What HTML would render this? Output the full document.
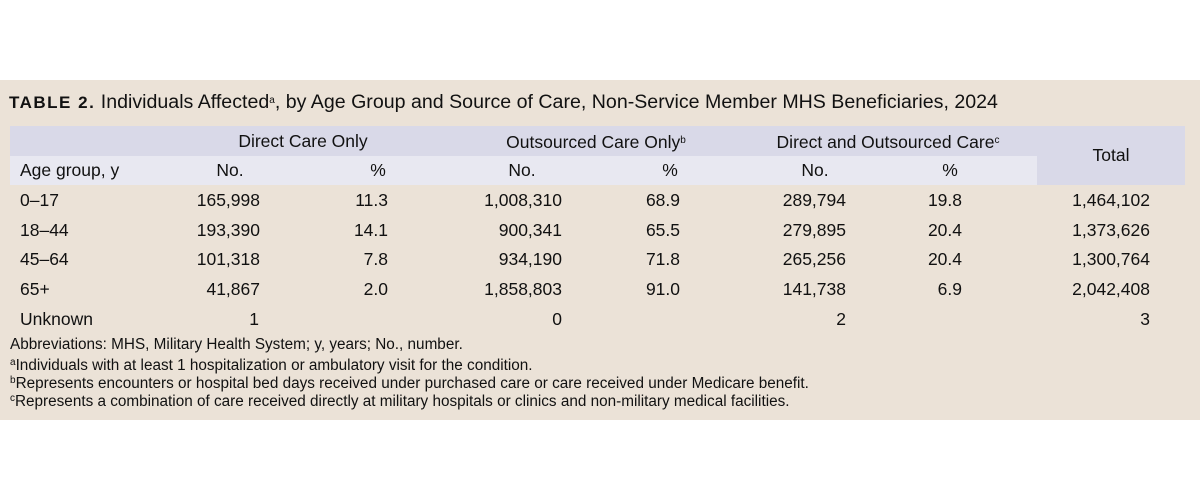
<!DOCTYPE html>
<html><head><style>
body{margin:0;width:1200px;height:501px;background:#fff;position:relative;font-family:"Liberation Sans",Arial,sans-serif;color:#111;overflow:hidden}
#bg{position:absolute;left:0;top:80px;width:1200px;height:340px;background:#ebe2d7}
.t{position:absolute;white-space:nowrap;font-size:17.5px;line-height:20px}
.r{text-align:right}
.c{text-align:center}
.f{font-size:15.3px;line-height:17px}
sup{font-size:10px;vertical-align:5px}
</style></head><body>
<div id="bg"></div>
<div class="t" style="left:9px;top:90px;font-size:19.6px;line-height:22px"><b style="font-family:'Liberation Sans Narrow','Liberation Sans',sans-serif;letter-spacing:1.5px;font-size:17px">TABLE 2.</b> Individuals Affected<sup>a</sup>, by Age Group and Source of Care, Non-Service Member MHS Beneficiaries, 2024</div>
<div style="position:absolute;left:10px;top:126px;width:1175px;height:30px;background:#d9d9e8"></div>
<div style="position:absolute;left:10px;top:156px;width:1027px;height:29px;background:#e8e8f1"></div>
<div style="position:absolute;left:1037px;top:156px;width:148px;height:29px;background:#d9d9e8"></div>
<div class="t c" style="left:193px;width:220px;top:131px">Direct Care Only</div>
<div class="t c" style="left:476px;width:240px;top:131px">Outsourced Care Only<sup>b</sup></div>
<div class="t c" style="left:738px;width:300px;top:131px">Direct and Outsourced Care<sup>c</sup></div>
<div class="t c" style="left:1037px;width:148px;top:145px">Total</div>
<div class="t" style="left:20px;top:160px">Age group, y</div>
<div class="t c" style="left:190px;width:80px;top:160px">No.</div>
<div class="t c" style="left:338px;width:80px;top:160px">%</div>
<div class="t c" style="left:482px;width:80px;top:160px">No.</div>
<div class="t c" style="left:630px;width:80px;top:160px">%</div>
<div class="t c" style="left:775px;width:80px;top:160px">No.</div>
<div class="t c" style="left:910px;width:80px;top:160px">%</div>

<div class="t" style="left:20px;top:190px">0–17</div><div class="t r" style="right:940px;top:190px">165,998</div><div class="t r" style="right:812px;top:190px">11.3</div><div class="t r" style="right:638px;top:190px">1,008,310</div><div class="t r" style="right:520px;top:190px">68.9</div><div class="t r" style="right:354px;top:190px">289,794</div><div class="t r" style="right:238px;top:190px">19.8</div><div class="t r" style="right:50px;top:190px">1,464,102</div>
<div class="t" style="left:20px;top:220px">18–44</div><div class="t r" style="right:940px;top:220px">193,390</div><div class="t r" style="right:812px;top:220px">14.1</div><div class="t r" style="right:638px;top:220px">900,341</div><div class="t r" style="right:520px;top:220px">65.5</div><div class="t r" style="right:354px;top:220px">279,895</div><div class="t r" style="right:238px;top:220px">20.4</div><div class="t r" style="right:50px;top:220px">1,373,626</div>
<div class="t" style="left:20px;top:249px">45–64</div><div class="t r" style="right:940px;top:249px">101,318</div><div class="t r" style="right:812px;top:249px">7.8</div><div class="t r" style="right:638px;top:249px">934,190</div><div class="t r" style="right:520px;top:249px">71.8</div><div class="t r" style="right:354px;top:249px">265,256</div><div class="t r" style="right:238px;top:249px">20.4</div><div class="t r" style="right:50px;top:249px">1,300,764</div>
<div class="t" style="left:20px;top:279px">65+</div><div class="t r" style="right:940px;top:279px">41,867</div><div class="t r" style="right:812px;top:279px">2.0</div><div class="t r" style="right:638px;top:279px">1,858,803</div><div class="t r" style="right:520px;top:279px">91.0</div><div class="t r" style="right:354px;top:279px">141,738</div><div class="t r" style="right:238px;top:279px">6.9</div><div class="t r" style="right:50px;top:279px">2,042,408</div>
<div class="t" style="left:20px;top:309px">Unknown</div><div class="t r" style="right:941px;top:309px">1</div><div class="t r" style="right:638px;top:309px">0</div><div class="t r" style="right:354px;top:309px">2</div><div class="t r" style="right:50px;top:309px">3</div>

<div class="t f" style="left:10px;top:336px">Abbreviations: MHS, Military Health System; y, years; No., number.</div>
<div class="t f" style="left:10px;top:354px"><sup>a</sup>Individuals with at least 1 hospitalization or ambulatory visit for the condition.</div>
<div class="t f" style="left:10px;top:372px"><sup>b</sup>Represents encounters or hospital bed days received under purchased care or care received under Medicare benefit.</div>
<div class="t f" style="left:10px;top:390px"><sup>c</sup>Represents a combination of care received directly at military hospitals or clinics and non-military medical facilities.</div>
</body></html>
